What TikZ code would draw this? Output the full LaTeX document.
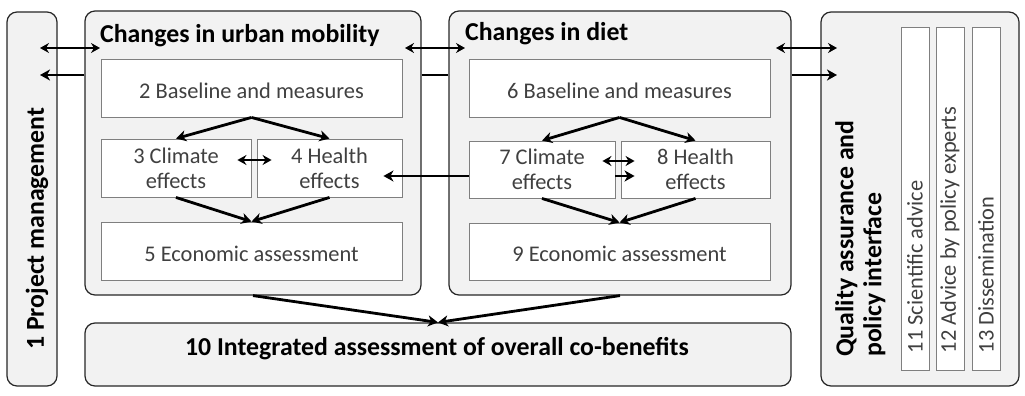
\documentclass[tikz,border=0pt]{standalone}
\usepackage{fontspec}
\setmainfont{Carlito}
\usetikzlibrary{arrows.meta}
\definecolor{panelfill}{HTML}{F2F2F2}
\definecolor{panelline}{HTML}{262626}
\definecolor{boxline}{HTML}{7F7F7F}
\definecolor{boxtext}{HTML}{404040}
\begin{document}
\begin{tikzpicture}[x=1pt,y=-1pt,
 panel/.style={draw=panelline, fill=panelfill, line width=1.2pt, rounded corners=10pt, inner sep=0pt},
 inbox/.style={draw=boxline, fill=white, line width=0.9pt, inner sep=0pt, font=\fontsize{22.4}{25}\selectfont, text=boxtext, align=center},
 oneline/.style={text height=20pt, text depth=0pt},
 itembox/.style={draw=boxline, fill=white, line width=0.9pt, inner sep=0pt, minimum width=343pt, minimum height=28pt, rotate=90},
 itemtxt/.style={inner sep=0pt, font=\fontsize{22.4}{25}\selectfont, text=boxtext, rotate=90, anchor=west},
 ttl/.style={font=\bfseries\fontsize{25.8}{28}\selectfont, inner sep=0pt, anchor=base west},
 arr/.style={line width=2.8pt, -{Stealth[length=10pt,width=11pt,inset=3pt]}},
 dbl/.style={line width=2.6pt, {Stealth[length=9pt,width=10pt,inset=3pt]}-{Stealth[length=9pt,width=10pt,inset=3pt]}},
 ln/.style={line width=2.8pt}]
\useasboundingbox (0,0) rectangle (1025,396);
% panels
\node[panel, minimum width=50pt, minimum height=374pt] (p1) at (32,199) {};
\node[panel, minimum width=336pt, minimum height=284pt] (pu) at (253,153) {};
\node[panel, minimum width=342pt, minimum height=284pt] (pd) at (620,153) {};
\node[panel, minimum width=198pt, minimum height=374pt] (pq) at (920,199) {};
\node[panel, minimum width=706pt, minimum height=63pt] (p10) at (438,354.5) {};
% inner boxes
\node[inbox, oneline, minimum width=301pt, minimum height=58pt] (b2) at (251.5,88) {2 Baseline and measures};
\node[inbox, minimum width=150pt, minimum height=58pt] (b3) at (176,168) {3 Climate\\effects};
\node[inbox, minimum width=145pt, minimum height=58pt] (b4) at (329.5,168) {4 Health\\effects};
\node[inbox, oneline, minimum width=301pt, minimum height=58pt] (b5) at (251.5,251) {5 Economic assessment};
\node[inbox, oneline, minimum width=301pt, minimum height=58pt] (b6) at (619.5,88) {6 Baseline and measures};
\node[inbox, minimum width=146pt, minimum height=57pt] (b7) at (542,169.5) {7 Climate\\effects};
\node[inbox, minimum width=149pt, minimum height=57pt] (b8) at (695.5,169.5) {8 Health\\effects};
\node[inbox, oneline, minimum width=301pt, minimum height=57pt] (b9) at (619.5,251.5) {9 Economic assessment};
\node[itembox] (b11) at (915,198.5) {};
\node[itembox] (b12) at (950,198.5) {};
\node[itembox] (b13) at (986,198.5) {};
\node[itemtxt] (l11) at ([yshift=17pt]b11.west) {11 Scientific advice};
\node[itemtxt] (l12) at ([yshift=17pt]b12.west) {12 Advice by policy experts};
\node[itemtxt] (l13) at ([yshift=17pt]b13.west) {13 Dissemination};
% titles
\node[ttl] (tu) at (100,43) {Changes in urban mobility};
\node[ttl] (td) at (465,41) {Changes in diet};
\node[ttl, anchor=base] (t10) at (437,355) {10 Integrated assessment of overall co-benefits};
\node[ttl, rotate=90, anchor=west] (t1) at (37,350) {1 Project management};
\node[ttl, rotate=90, anchor=north west, align=left] (tq) at (835,357) {Quality assurance and\\policy interface};
% connectors between panels
\coordinate (a1) at (40,48); \coordinate (a2) at (100,48);
\draw[dbl] (a1) -- (a2);
\coordinate (a3) at (40,75);
\draw[arr] (pu.west |- a3) -- (a3);
\coordinate (m1) at (405,48); \coordinate (m2) at (465,48);
\draw[dbl] (m1) -- (m2);
\coordinate (m3) at (435,75);
\draw[ln] (pu.east |- m3) -- (pd.west |- m3);
\coordinate (r1) at (776,48); \coordinate (r2) at (837,48);
\draw[dbl] (r1) -- (r2);
\coordinate (r3) at (837,75);
\draw[arr] (pd.east |- r3) -- (r3);
% urban
\draw[arr] (b2.south) -- (b3.north);
\draw[arr] (b2.south) -- (b4.north);
\draw[arr] (b3.south) -- (b5.north);
\draw[arr] (b4.south) -- (b5.north);
\draw[dbl] ([xshift=-14pt,yshift=8pt]b3.east) -- ([xshift=15pt,yshift=8pt]b4.west);
% diet
\draw[arr] (b6.south) -- (b7.north);
\draw[arr] (b6.south) -- (b8.north);
\draw[arr] (b7.south) -- (b9.north);
\draw[arr] (b8.south) -- (b9.north);
\draw[dbl] ([xshift=-13pt,yshift=8.5pt]b7.east) -- ([xshift=14pt,yshift=8.5pt]b8.west);
\draw[arr] ([yshift=-6.5pt]b7.east) -- ([xshift=14pt,yshift=-6.5pt]b8.west);
\coordinate (t4) at ([xshift=-19pt]b4.east);
\draw[arr] ([yshift=-6.5pt]b7.west) -- ([yshift=-6.5pt]b7.west -| t4);
% to integrated assessment
\draw[arr] (pu.south) -- (p10.north);
\draw[arr] (pd.south) -- (p10.north);
\end{tikzpicture}
\end{document}
